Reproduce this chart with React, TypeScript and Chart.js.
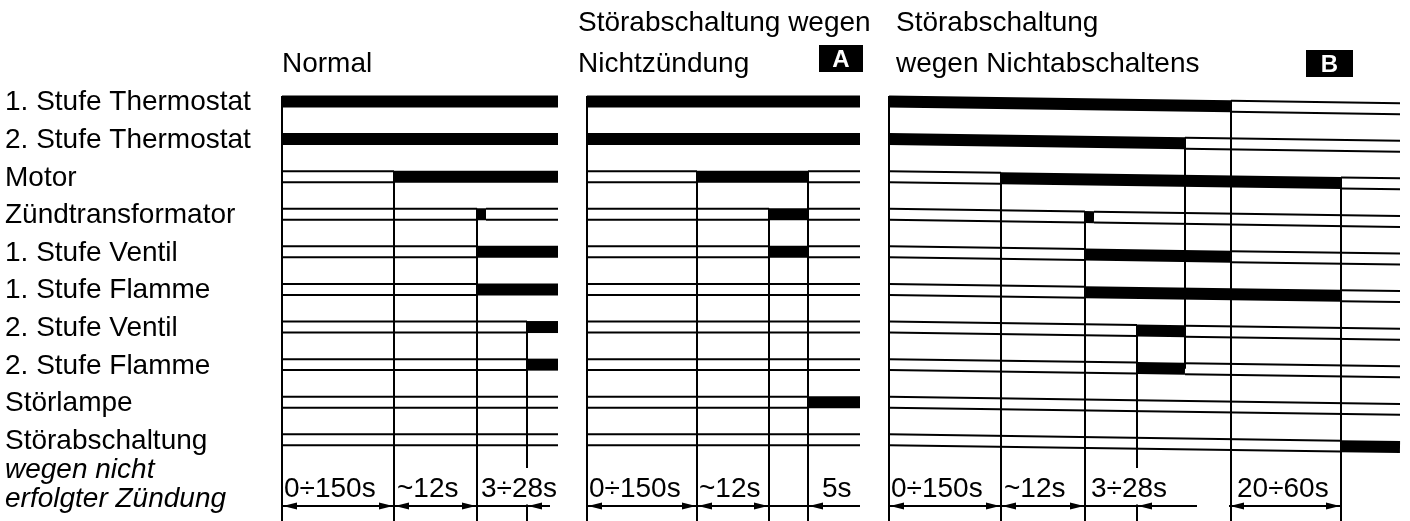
import { useEffect, useRef } from "react";
import { Chart, registerables } from "chart.js";
Chart.register(...registerables);

// ---------- data (schematic time axis in diagram units) ----------
const rowLabels = [
  "1. Stufe Thermostat",
  "2. Stufe Thermostat",
  "Motor",
  "Zündtransformator",
  "1. Stufe Ventil",
  "1. Stufe Flamme",
  "2. Stufe Ventil",
  "2. Stufe Flamme",
  "Störlampe",
  "Störabschaltung",
];
const lastRowItalic = ["wegen nicht", "erfolgter Zündung"];

const panelStart = [282, 587, 889];
const panelEnd = [558, 860, 1400];
const panelHeadX = [282, 578, 896];
const panelHeadLine1 = ["", "Störabschaltung wegen", "Störabschaltung"];
const panelHeadLine2 = ["Normal", "Nichtzündung", "wegen Nichtabschaltens"];
const panelTag = ["", "A", "B"];
const panelTagFrom = [0, 819, 1306];
const panelTagTo = [0, 863, 1353];

// ON interval of each signal row per panel (null = stays off)
const onNormal = [[282, 558], [282, 558], [394, 558], [477, 486], [477, 558], [477, 558], [527, 558], [527, 558], null, null];
const onFaultA = [[587, 860], [587, 860], [697, 808], [769, 808], [769, 808], null, null, null, [808, 860], null];
const onFaultB = [[889, 1231], [889, 1185], [1001, 1341], [1085, 1094], [1085, 1231], [1085, 1341], [1137, 1185], [1137, 1185], null, [1341, 1400]];

// event markers: [time, first row, last row] (-1 = down to time axis, -2 = interrupted above dimension text)
const marksNormal = [[282, 0, -1], [394, 2, -1], [477, 3, -1], [527, 6, -2]];
const marksFaultA = [[587, 0, -1], [697, 2, -1], [769, 3, -1], [808, 2, -1]];
const marksFaultB = [[889, 0, -1], [1001, 2, -1], [1085, 3, -1], [1137, 6, -2], [1185, 1, 7], [1231, 0, -1], [1341, 2, -1]];

// dimension lines & labels
const dimLines = [[282, 550], [587, 860], [889, 1197], [1229, 1341]];
const arrowsLeft = [282, 394, 527, 587, 697, 808, 889, 1001, 1137, 1229];
const arrowsRight = [394, 477, 697, 769, 1001, 1085, 1341];
const dimLabels = ["0÷150s", "~12s", "3÷28s", "0÷150s", "~12s", "5s", "0÷150s", "~12s", "3÷28s", "20÷60s"];
const dimLabelAt = [284, 397, 481, 589, 699, 822, 891, 1004, 1091, 1237];

// ---------- layout constants ----------
const X_MIN = 0, X_MAX = 1410;
const Y_MIN = -2.7, Y_MAX = 11.16;
const HALF = 0.146;       // half band height (rows)
const DIM_Y = 10.76;      // dimension line (rows)
const SPLIT_END = 9.75;
const SPLIT_TICK = 10.72;
const TILT_FROM = 889;
const TILT_RATE = 0.014 / 37.6;
const FONT = '"Liberation Sans", Arial, Helvetica, sans-serif';

const tilt = (x: number) => (x > TILT_FROM ? (x - TILT_FROM) * TILT_RATE : 0);

function segPts(x0: number, x1: number, yv: number) {
  return [x0, x1].map((x) => ({ x, y: yv + tilt(x) }));
}

function lineDs(data: { x: number; y: number }[], w: number) {
  return {
    data,
    showLine: true,
    borderColor: "#000",
    backgroundColor: "#000",
    borderWidth: w,
    pointRadius: 0,
    borderCapStyle: "butt",
    borderJoinStyle: "miter",
    fill: false,
    tension: 0,
    clip: false,
  } as any;
}

function arrowCanvas(dir: number) {
  const c = document.createElement("canvas");
  c.width = 34;
  c.height = 8;
  const g = c.getContext("2d")!;
  g.fillStyle = "#000";
  g.beginPath();
  if (dir > 0) {
    g.moveTo(16, 4); g.lineTo(2, 0.5); g.lineTo(2, 7.5);
  } else {
    g.moveTo(18, 4); g.lineTo(32, 0.5); g.lineTo(32, 7.5);
  }
  g.closePath();
  g.fill();
  return c;
}

function buildDatasets() {
  const ds: any[] = [];
  const panels = [onNormal, onFaultA, onFaultB];
  const marks = [marksNormal, marksFaultA, marksFaultB];
  panels.forEach((on, p) => {
    const s = panelStart[p], e = panelEnd[p];
    on.forEach((iv, r) => {
      const offs: number[][] = [];
      if (!iv) offs.push([s, e]);
      else {
        if (iv[0] > s) offs.push([s, iv[0]]);
        if (iv[1] < e) offs.push([iv[1], e]);
        ds.push(lineDs(segPts(iv[0], iv[1], r), 12));
      }
      offs.forEach(([a, b]) => {
        ds.push(lineDs(segPts(a, b, r - HALF), 2));
        ds.push(lineDs(segPts(a, b, r + HALF), 2));
      });
    });
    marks[p].forEach(([t, r0, r1]) => {
      const top = r0 - HALF + tilt(t);
      if (r1 === -1) ds.push(lineDs([{ x: t, y: top }, { x: t, y: Y_MAX }], 2));
      else if (r1 === -2) {
        ds.push(lineDs([{ x: t, y: top }, { x: t, y: SPLIT_END }], 2));
        ds.push(lineDs([{ x: t, y: SPLIT_TICK }, { x: t, y: Y_MAX }], 2));
      } else ds.push(lineDs([{ x: t, y: top }, { x: t, y: r1 + tilt(t) }], 2));
    });
  });
  dimLines.forEach(([a, b]) => ds.push(lineDs([{ x: a, y: DIM_Y }, { x: b, y: DIM_Y }], 2)));
  ds.push({
    data: arrowsRight.map((x) => ({ x, y: DIM_Y })),
    pointStyle: arrowCanvas(1),
    pointRadius: 5,
    showLine: false,
    clip: false,
  });
  ds.push({
    data: arrowsLeft.map((x) => ({ x, y: DIM_Y })),
    pointStyle: arrowCanvas(-1),
    pointRadius: 5,
    showLine: false,
    clip: false,
  });
  return ds;
}

const textPlugin = {
  id: "diagramText",
  afterDraw(chart: any) {
    const { ctx } = chart;
    const xs = chart.scales.x, ys = chart.scales.y;
    ctx.save();
    ctx.fillStyle = "#000";
    ctx.textBaseline = "alphabetic";
    ctx.textAlign = "left";
    ctx.font = `28px ${FONT}`;
    rowLabels.forEach((t, i) => ctx.fillText(t, 5, ys.getPixelForValue(i) + 9));
    ctx.font = `italic 28px ${FONT}`;
    const lastY = ys.getPixelForValue(rowLabels.length - 1) + 9;
    lastRowItalic.forEach((t, i) => ctx.fillText(t, 5, lastY + 29 * (i + 1)));
    ctx.font = `28px ${FONT}`;
    panelHeadLine1.forEach((t, p) => {
      const hx = xs.getPixelForValue(panelHeadX[p]);
      if (t) ctx.fillText(t, hx, 31);
      ctx.fillText(panelHeadLine2[p], hx, 72);
      if (panelTag[p]) {
        const a = xs.getPixelForValue(panelTagFrom[p]);
        const b = xs.getPixelForValue(panelTagTo[p]);
        const top = p === 2 ? 50 : 45;
        ctx.fillRect(a, top, b - a, 27);
        ctx.fillStyle = "#fff";
        ctx.font = `bold 24px ${FONT}`;
        ctx.textAlign = "center";
        ctx.fillText(panelTag[p], (a + b) / 2, top + 22);
        ctx.textAlign = "left";
        ctx.fillStyle = "#000";
        ctx.font = `28px ${FONT}`;
      }
    });
    const dy = ys.getPixelForValue(DIM_Y) - 9;
    dimLabels.forEach((t, i) => ctx.fillText(t, xs.getPixelForValue(dimLabelAt[i]), dy));
    ctx.restore();
  },
};

export default function App() {
  const ref = useRef<HTMLCanvasElement>(null);
  useEffect(() => {
    document.body.style.margin = "0";
    const chart = new Chart(ref.current!, {
      type: "scatter",
      data: { datasets: buildDatasets() },
      options: {
        animation: false,
        responsive: false,
        maintainAspectRatio: false,
        devicePixelRatio: 1,
        events: [],
        layout: { padding: 0, autoPadding: false },
        plugins: { legend: { display: false }, tooltip: { enabled: false } },
        scales: {
          x: { type: "linear", min: X_MIN, max: X_MAX, display: false },
          y: { type: "linear", min: Y_MIN, max: Y_MAX, reverse: true, display: false },
        },
      },
      plugins: [textPlugin],
    } as any);
    return () => chart.destroy();
  }, []);
  return <canvas ref={ref} width={1410} height={521} style={{ display: "block" }} />;
}
